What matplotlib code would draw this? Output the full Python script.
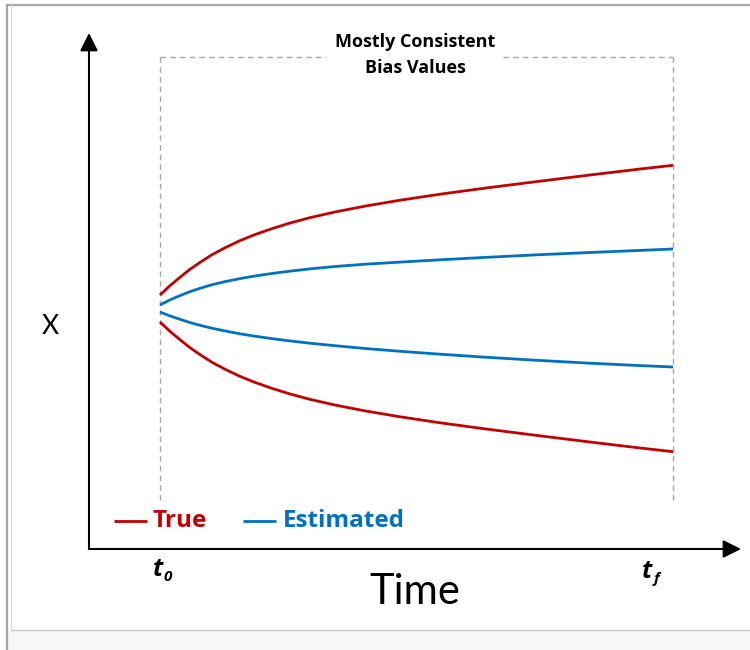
import matplotlib
matplotlib.use("Agg")
import matplotlib.pyplot as plt

plt.rcParams["font.family"] = ["Lato", "DejaVu Sans"]

# normalised time from t0 (0) to tf (1)
time = [0.0, 0.019, 0.039, 0.058, 0.078, 0.101, 0.127, 0.156, 0.185, 0.218, 0.253,
        0.292, 0.341, 0.400, 0.468, 0.546, 0.634, 0.731, 0.838, 0.936, 1.0]

# state X for the two true trajectories and their estimates
true_upper = [0.13, 0.222, 0.307, 0.385, 0.456, 0.532, 0.603, 0.674, 0.734, 0.793, 0.849,
              0.903, 0.96, 1.019, 1.078, 1.138, 1.199, 1.262, 1.33, 1.39, 1.427]
true_lower = [-0.14, -0.232, -0.317, -0.395, -0.466, -0.542, -0.613, -0.684, -0.744, -0.803,
              -0.859, -0.913, -0.97, -1.029, -1.088, -1.148, -1.209, -1.272, -1.34, -1.40,
              -1.437]
est_upper = [0.03, 0.08, 0.124, 0.163, 0.197, 0.232, 0.264, 0.294, 0.32, 0.345, 0.368,
             0.391, 0.415, 0.438, 0.459, 0.482, 0.506, 0.531, 0.555, 0.576, 0.59]
est_lower = [-0.04, -0.078, -0.113, -0.145, -0.173, -0.202, -0.23, -0.258, -0.282, -0.306,
             -0.329, -0.352, -0.377, -0.405, -0.433, -0.462, -0.492, -0.522, -0.552, -0.576,
             -0.59]

RED = "#C00000"
BLUE = "#0070C0"
GREY = "#a6a6a6"
BOLD_FONT = ["Open Sans", "DejaVu Sans"]

W, H = 750, 650
X0_PX, X1_PX = 160, 673   # pixel columns of t0 and tf
Y0_PX, Y_SCALE = 308, 100  # pixel row of X = 0, pixels per unit of X
T_SCALE = X1_PX - X0_PX


def px(x, y):
    """Convert a pixel position on the canvas into data coordinates."""
    return (x - X0_PX) / T_SCALE, (Y0_PX - y) / Y_SCALE


fig = plt.figure(figsize=(W / 100, H / 100), dpi=100)
ax = fig.add_axes([0, 0, 1, 1])
ax.set_xlim(px(0, 0)[0], px(W, 0)[0])
ax.set_ylim(px(0, H)[1], px(0, 0)[1])
ax.axis("off")


def hline(x0, x1, y, **kw):
    a, b = px(x0, y), px(x1, y)
    ax.plot([a[0], b[0]], [a[1], b[1]], **kw)


def vline(x, y0, y1, **kw):
    a, b = px(x, y0), px(x, y1)
    ax.plot([a[0], b[0]], [a[1], b[1]], **kw)


# outer frame
hline(6, W, 4.5, color=GREY, lw=1.6, solid_capstyle="butt")
vline(7, 4, H, color=GREY, lw=1.6, solid_capstyle="butt")
vline(11, 4, 630, color="#d9d9d9", lw=0.8)
hline(11, W, 630, color="#c8c8c8", lw=0.9)
b0, b1 = px(8, 631), px(W, H)
ax.fill_between([b0[0], b1[0]], b1[1], b0[1], color="#f8f8f8", lw=0)

# dashed window between t0 and tf
dash = dict(color=GREY, lw=1.0, linestyle=(0, (4, 3)))
vline(X0_PX, 57, 500, **dash)
vline(X1_PX, 57, 500, **dash)
hline(X0_PX, 326, 57, **dash)
hline(503, X1_PX, 57, **dash)
ax.text(*px(415, 42), "Mostly Consistent", ha="center", va="center",
        fontsize=13, fontweight="bold", color="black", family=BOLD_FONT)
ax.text(*px(415, 68), "Bias Values", ha="center", va="center",
        fontsize=13, fontweight="bold", color="black", family=BOLD_FONT)

# axes with arrowheads
arrow = dict(arrowstyle="-|>,head_length=0.6,head_width=0.3", mutation_scale=18,
             color="black", lw=1.5, shrinkA=0, shrinkB=0)
origin = px(89, 549)
ax.annotate("", xy=px(89, 33), xytext=origin, arrowprops=arrow)
ax.annotate("", xy=px(741, 549), xytext=origin, arrowprops=arrow)

# trajectories
lw = 2.0
for values, color in ((true_upper, RED), (true_lower, RED),
                      (est_upper, BLUE), (est_lower, BLUE)):
    ax.plot(time, values, color=color, lw=lw, solid_capstyle="butt",
            solid_joinstyle="round")

# legend
hline(114, 147, 521, color=RED, lw=lw, solid_capstyle="butt")
ax.text(*px(153, 521), "True", color=RED, fontsize=17.5, fontweight="bold",
        ha="left", va="center", family=BOLD_FONT)
hline(243, 276, 521, color=BLUE, lw=lw, solid_capstyle="butt")
ax.text(*px(283, 521), "Estimated", color=BLUE, fontsize=17.5, fontweight="bold",
        ha="left", va="center", family=BOLD_FONT)

# axis labels
ax.text(*px(50, 326), "X", fontsize=19, ha="center", va="center")
ax.text(*px(415, 592), "Time", fontsize=30, ha="center", va="center")
tick_style = dict(fontweight="bold", fontstyle="italic", family=BOLD_FONT,
                  color="black", va="center")
ax.text(*px(158, 569), "t", fontsize=18, ha="center", **tick_style)
ax.text(*px(167.5, 577), "0", fontsize=11, ha="center", **tick_style)
ax.text(*px(647, 571), "t", fontsize=18, ha="center", **tick_style)
ax.text(*px(657, 579), "f", fontsize=11, ha="center", **tick_style)

fig.savefig("out.png", dpi=100)
